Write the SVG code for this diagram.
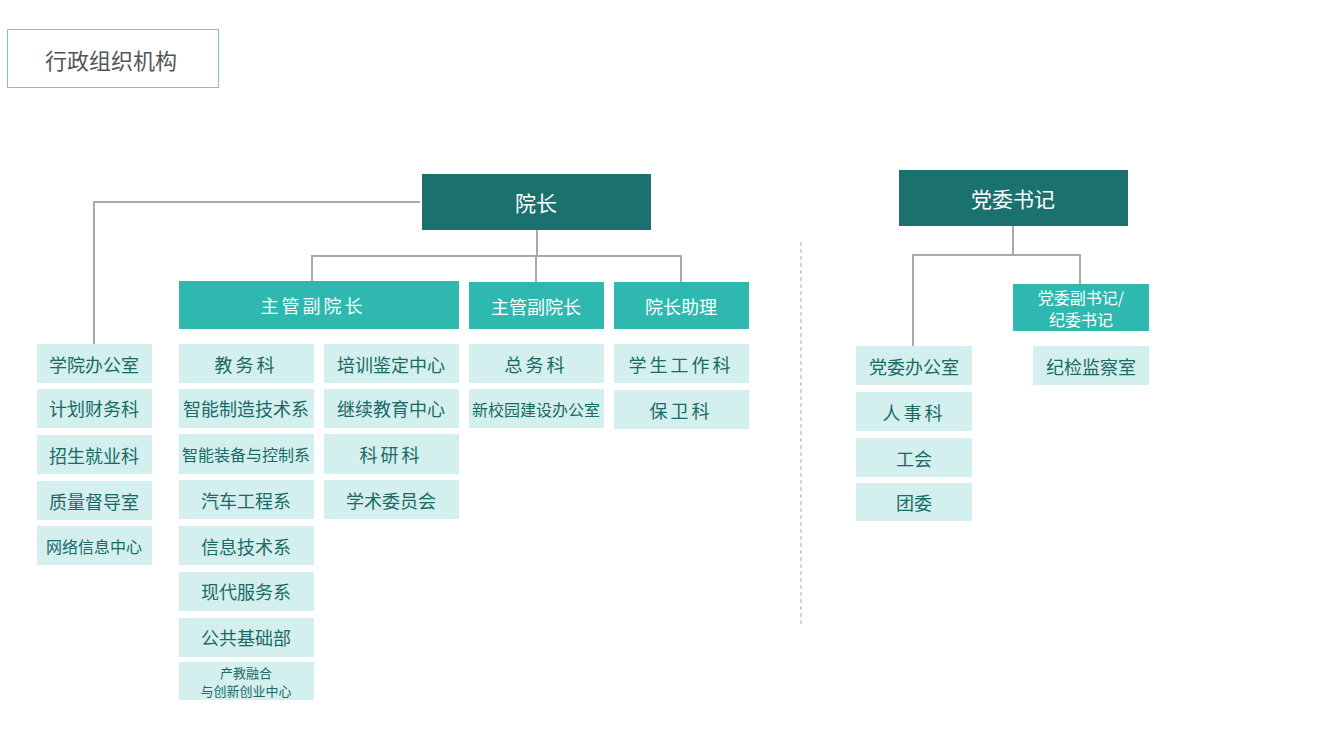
<svg xmlns="http://www.w3.org/2000/svg" width="1342" height="744" viewBox="0 0 1342 744">
<style>
text{font-family:"Noto Sans CJK SC","Noto Sans",sans-serif;text-anchor:middle;dominant-baseline:central}
.d{fill:#1b716d}.m{fill:#2eb8b0}.l{fill:#d3efee}
.tw{fill:#fff;font-size:21px}.tm{fill:#fff;font-size:18px}.tl{fill:#1a6a66;font-size:18px}
.s16{font-size:16px}.s15{font-size:15px}.s13{font-size:13px}.s17{font-size:17px}
.c{fill:none;stroke:#a9a9a9;stroke-width:2}
</style>
<rect width="1342" height="744" fill="#fff"/>
<g id="title"><rect x="7.5" y="29.5" width="211" height="58" fill="#fff" stroke="#7cc7c3"/><text x="111" y="59" font-size="22" fill="#555">行政组织机构</text></g>
<g id="connectors">
<path class="c" d="M420 202H94V344M537 230V256M312 282V256H681V282M536 256V282"/>
<path class="c" d="M1013 226V255M913 346V255H1080V284"/>
<path d="M801 242V627" stroke="#aaa" stroke-dasharray="4 3" fill="none"/>
</g>
<g id="yz"><rect class="d" x="422" y="174" width="229" height="56"/><text class="tw" x="536" y="202">院长</text></g>
<g id="dw"><rect class="d" x="899" y="170" width="229" height="56"/><text class="tw" x="1013" y="198">党委书记</text></g>
<g id="f1"><rect class="m" x="179" y="281" width="280" height="48"/><text class="tm" x="313" y="305" letter-spacing="3">主管副院长</text></g>
<g id="f2"><rect class="m" x="469" y="282" width="135" height="47"/><text class="tm" x="536" y="306">主管副院长</text></g>
<g id="zl"><rect class="m" x="614" y="282" width="135" height="47"/><text class="tm" x="681" y="306">院长助理</text></g>
<g id="fsj"><rect class="m" x="1013" y="284" width="136" height="47"/><text class="tm s16" x="1081" y="297">党委副书记/</text><text class="tm s16" x="1081" y="319">纪委书记</text></g>
<g id="a1"><rect class="l" x="37" y="344" width="115" height="39"/><text class="tl" x="94" y="364">学院办公室</text></g>
<g id="a2"><rect class="l" x="37" y="389" width="115" height="39"/><text class="tl" x="94" y="408">计划财务科</text></g>
<g id="a3"><rect class="l" x="37" y="435" width="115" height="39"/><text class="tl" x="94" y="455">招生就业科</text></g>
<g id="a4"><rect class="l" x="37" y="481" width="115" height="39"/><text class="tl" x="94" y="501">质量督导室</text></g>
<g id="a5"><rect class="l" x="37" y="526" width="115" height="39"/><text class="tl s16" x="94" y="546">网络信息中心</text></g>
<g id="b1"><rect class="l" x="179" y="344" width="135" height="39"/><text class="tl" x="246" y="364" letter-spacing="3">教务科</text></g>
<g id="b2"><rect class="l" x="179" y="389" width="135" height="39"/><text class="tl" x="246" y="408">智能制造技术系</text></g>
<g id="b3"><rect class="l" x="179" y="434" width="135" height="40"/><text class="tl s16" x="246" y="454">智能装备与控制系</text></g>
<g id="b4"><rect class="l" x="179" y="480" width="135" height="39"/><text class="tl" x="246" y="500">汽车工程系</text></g>
<g id="b5"><rect class="l" x="179" y="526" width="135" height="39"/><text class="tl" x="246" y="546">信息技术系</text></g>
<g id="b6"><rect class="l" x="179" y="572" width="135" height="39"/><text class="tl" x="246" y="591">现代服务系</text></g>
<g id="b7"><rect class="l" x="179" y="618" width="135" height="39"/><text class="tl" x="246" y="637">公共基础部</text></g>
<g id="b8"><rect class="l" x="179" y="662" width="135" height="38"/><text class="tl s13" x="246" y="672">产教融合</text><text class="tl s13" x="246" y="690">与创新创业中心</text></g>
<g id="c1"><rect class="l" x="324" y="344" width="135" height="39"/><text class="tl" x="391" y="364">培训鉴定中心</text></g>
<g id="c2"><rect class="l" x="324" y="389" width="135" height="39"/><text class="tl" x="391" y="408">继续教育中心</text></g>
<g id="c3"><rect class="l" x="324" y="434" width="135" height="40"/><text class="tl" x="391" y="454" letter-spacing="3">科研科</text></g>
<g id="c4"><rect class="l" x="324" y="480" width="135" height="39"/><text class="tl" x="391" y="500">学术委员会</text></g>
<g id="d1"><rect class="l" x="469" y="344" width="135" height="39"/><text class="tl" x="536" y="364" letter-spacing="3">总务科</text></g>
<g id="d2"><rect class="l" x="469" y="389" width="135" height="39"/><text class="tl s16" x="536" y="409">新校园建设办公室</text></g>
<g id="e1"><rect class="l" x="614" y="344" width="135" height="39"/><text class="tl" x="681" y="364" letter-spacing="3">学生工作科</text></g>
<g id="e2"><rect class="l" x="614" y="390" width="135" height="39"/><text class="tl" x="681" y="410" letter-spacing="3">保卫科</text></g>
<g id="g1"><rect class="l" x="856" y="346" width="116" height="39"/><text class="tl" x="914" y="366">党委办公室</text></g>
<g id="g2"><rect class="l" x="856" y="392" width="116" height="39"/><text class="tl" x="914" y="412" letter-spacing="3">人事科</text></g>
<g id="g3"><rect class="l" x="856" y="438" width="116" height="39"/><text class="tl" x="914" y="458">工会</text></g>
<g id="g4"><rect class="l" x="856" y="483" width="116" height="38"/><text class="tl" x="914" y="502">团委</text></g>
<g id="h1"><rect class="l" x="1033" y="346" width="116" height="39"/><text class="tl" x="1091" y="366">纪检监察室</text></g>
</svg>
